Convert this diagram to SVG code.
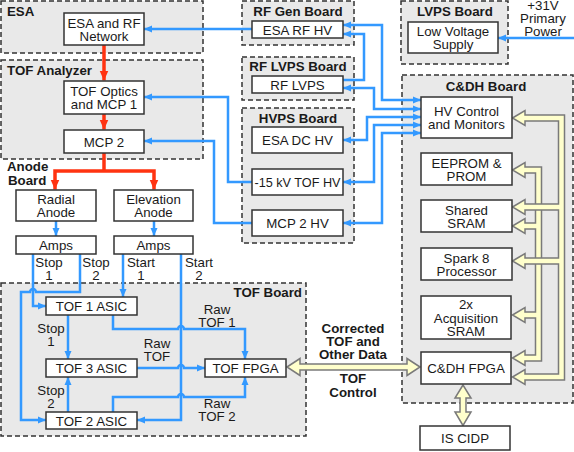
<svg xmlns="http://www.w3.org/2000/svg" width="574" height="452" viewBox="0 0 574 452">
<defs>
<style>
.grp{fill:#e9e9e9;stroke:#333;stroke-width:1.5;stroke-dasharray:5,3}
.box{fill:#fff;stroke:#333;stroke-width:1.5}
text{font-family:"Liberation Sans",Arial,sans-serif;font-size:13.3px;fill:#1a1a1a}
.c{text-anchor:middle}
.b{font-weight:bold}
.blue{fill:none;stroke:#3399ff;stroke-width:2.5}
.red{fill:none;stroke:#ff3311;stroke-width:3.5}
.bo{fill:none;stroke:#7a7a7a;stroke-width:7.5}
.by{fill:none;stroke:#ffffcc;stroke-width:4.5}
.ho{fill:#ffffcc;stroke:#7a7a7a;stroke-width:1.5}
</style>
<marker id="ab" markerUnits="userSpaceOnUse" markerWidth="8" markerHeight="8" refX="8" refY="4" orient="auto-start-reverse" viewBox="0 0 8 8"><path d="M0,0.5 L8,4 L0,7.5 z" fill="#3399ff"/></marker>
<marker id="ar" markerUnits="userSpaceOnUse" markerWidth="10" markerHeight="10" refX="10" refY="5" orient="auto-start-reverse" viewBox="0 0 10 10"><path d="M0,0.5 L10,5 L0,9.5 z" fill="#ff3311"/></marker>
</defs>

<!-- Boards -->
<g id="esa-board"><rect class="grp" x="1" y="1" width="202" height="52"/><text class="b" x="7" y="16">ESA</text></g>
<g id="tof-analyzer-board"><rect class="grp" x="1" y="60" width="202" height="99"/><text class="b" x="7" y="75">TOF Analyzer</text></g>
<g id="anode-board"><text class="b" x="7" y="171">Anode</text><text class="b" x="8" y="185">Board</text></g>
<g id="tof-board"><rect class="grp" x="1" y="283" width="305" height="153"/><text class="b" x="302" y="297" text-anchor="end">TOF Board</text></g>
<g id="rfgen-board"><rect class="grp" x="242" y="1" width="112" height="44"/><text class="b c" x="298" y="16">RF Gen Board</text></g>
<g id="rflvps-board"><rect class="grp" x="242" y="57" width="112" height="43"/><text class="b c" x="298" y="71">RF LVPS Board</text></g>
<g id="hvps-board"><rect class="grp" x="242" y="108" width="112" height="135"/><text class="b c" x="298" y="123">HVPS Board</text></g>
<g id="lvps-board"><rect class="grp" x="401" y="1" width="107" height="63"/><text class="b c" x="455" y="16">LVPS Board</text></g>
<g id="cdh-board"><rect class="grp" x="402" y="75" width="171" height="328"/><text class="b c" x="486" y="91">C&amp;DH Board</text></g>

<!-- Connectors -->
<g id="connectors">
<g id="red">
<path class="red" d="M104,45 V80.5" marker-end="url(#ar)"/>
<path class="red" d="M104,114 V129.5" marker-end="url(#ar)"/>
<path class="red" d="M104,153 V171"/>
<path class="red" d="M55,189.5 V171 H154 V189.5" marker-start="url(#ar)" marker-end="url(#ar)"/>
</g>
<g id="blue">
<path class="blue" d="M56,221 V236" marker-end="url(#ab)"/>
<path class="blue" d="M154,221 V236" marker-end="url(#ab)"/>
<path class="blue" d="M33,254 V306 H46" marker-end="url(#ab)"/>
<path class="blue" d="M80,254 V292 H36 A3,3 0 0 0 30,292 H21 V420 H46" marker-end="url(#ab)"/>
<path class="blue" d="M123,254 V297" marker-end="url(#ab)"/>
<path class="blue" d="M181,254 V420 H137" marker-end="url(#ab)"/>
<path class="blue" d="M68,315 V359" marker-end="url(#ab)"/>
<path class="blue" d="M68,412 V377" marker-end="url(#ab)"/>
<path class="blue" d="M113,315 V329 H178 A3,3 0 0 1 184,329 H245 V359" marker-end="url(#ab)"/>
<path class="blue" d="M137,368 H178 A3,3 0 0 1 184,368 H205" marker-end="url(#ab)"/>
<path class="blue" d="M113,412 V397 H178 A3,3 0 0 1 184,397 H245 V377" marker-end="url(#ab)"/>
<path class="blue" d="M252,29 H144" marker-end="url(#ab)"/>
<path class="blue" d="M252,182 H228 V97 H144" marker-end="url(#ab)"/>
<path class="blue" d="M252,223 H214 V141 H144" marker-end="url(#ab)"/>
<path class="blue" d="M343,25 H382 V100 H421" marker-start="url(#ab)" marker-end="url(#ab)"/>
<path class="blue" d="M343,80 H364 V34 H343" marker-end="url(#ab)"/>
<path class="blue" d="M343,88 H374 V109 H421" marker-start="url(#ab)" marker-end="url(#ab)"/>
<path class="blue" d="M343,140 H367 V117 H421" marker-start="url(#ab)" marker-end="url(#ab)"/>
<path class="blue" d="M343,182 H374 V125 H421" marker-start="url(#ab)" marker-end="url(#ab)"/>
<path class="blue" d="M343,223 H382 V133 H421" marker-start="url(#ab)" marker-end="url(#ab)"/>
<path class="blue" d="M574,38 H498" marker-end="url(#ab)"/>
</g>
<g id="bus-inner">
<path class="bo" d="M523,170 H538.5 V358 H523 M523,226 H538.5 M523,315 H538.5"/>
<polygon class="ho" points="512.5,170 525,162.5 525,177.5"/>
<polygon class="ho" points="512.5,226 525,218.5 525,233.5"/>
<polygon class="ho" points="512.5,315 525,307.5 525,322.5"/>
<polygon class="ho" points="512.5,358 525,350.5 525,365.5"/>
<path class="by" d="M522,170 H538.5 V358 H522 M522,226 H538.5 M522,315 H538.5"/>
</g>
<g id="bus-outer">
<path class="bo" d="M523,118 H561.5 V377 H523 M523,207 H561.5 M523,261 H561.5"/>
<polygon class="ho" points="512.5,118 525,110.5 525,125.5"/>
<polygon class="ho" points="512.5,207 525,199.5 525,214.5"/>
<polygon class="ho" points="512.5,261 525,253.5 525,268.5"/>
<polygon class="ho" points="512.5,377 525,369.5 525,384.5"/>
<path class="by" d="M522,118 H561.5 V377 H522 M522,207 H561.5 M522,261 H561.5"/>
</g>
<g id="bus-tof">
<path class="bo" d="M298,367 H409"/>
<polygon class="ho" points="287,367 300,358.5 300,375.5"/>
<polygon class="ho" points="420,367 407,358.5 407,375.5"/>
<path class="by" d="M298,367 H409"/>
</g>
<g id="bus-cidp">
<path class="bo" d="M463,396 V414"/>
<polygon class="ho" points="463,385 455,398 471,398"/>
<polygon class="ho" points="463,425.5 455,412 471,412"/>
<path class="by" d="M463,396 V414"/>
</g>
</g>

<!-- Labels -->
<g id="labels">
<text class="c" x="49" y="267">Stop</text><text class="c" x="49" y="280">1</text>
<text class="c" x="96" y="267">Stop</text><text class="c" x="96" y="280">2</text>
<text class="c" x="141" y="267">Start</text><text class="c" x="141" y="280">1</text>
<text class="c" x="199" y="267">Start</text><text class="c" x="199" y="280">2</text>
<text class="c" x="51" y="333">Stop</text><text class="c" x="51" y="346">1</text>
<text class="c" x="51" y="395">Stop</text><text class="c" x="51" y="408">2</text>
<text class="c" x="217" y="314">Raw</text><text class="c" x="217" y="327">TOF 1</text>
<text class="c" x="157" y="348">Raw</text><text class="c" x="157" y="361">TOF</text>
<text class="c" x="217" y="408">Raw</text><text class="c" x="217" y="421">TOF 2</text>
<text class="c b" x="353" y="333">Corrected</text><text class="c b" x="353" y="346">TOF and</text><text class="c b" x="353" y="359">Other Data</text>
<text class="c b" x="353" y="383">TOF</text><text class="c b" x="353" y="397">Control</text>
<text class="c" x="543" y="10">+31V</text><text class="c" x="543" y="23">Primary</text><text class="c" x="543" y="36">Power</text>
</g>

<!-- Nodes -->
<g id="esa-rf-network"><rect class="box" x="64" y="13" width="80" height="32"/><text class="c" x="104" y="27.5">ESA and RF</text><text class="c" x="104" y="40.5">Network</text></g>
<g id="tof-optics"><rect class="box" x="64" y="81" width="80" height="33"/><text class="c" x="104" y="96">TOF Optics</text><text class="c" x="104" y="109">and MCP 1</text></g>
<g id="mcp2"><rect class="box" x="64" y="130" width="80" height="23"/><text class="c" x="104" y="146.5">MCP 2</text></g>
<g id="radial-anode"><rect class="box" x="16" y="190" width="80" height="31"/><text class="c" x="56" y="204">Radial</text><text class="c" x="56" y="217">Anode</text></g>
<g id="elevation-anode"><rect class="box" x="114" y="190" width="79" height="31"/><text class="c" x="153.5" y="204">Elevation</text><text class="c" x="153.5" y="217">Anode</text></g>
<g id="amps-radial"><rect class="box" x="16" y="236" width="80" height="18"/><text class="c" x="56" y="250">Amps</text></g>
<g id="amps-elevation"><rect class="box" x="114" y="236" width="79" height="18"/><text class="c" x="153.5" y="250">Amps</text></g>
<g id="tof1-asic"><rect class="box" x="46" y="297" width="91" height="18"/><text class="c" x="91.5" y="311">TOF 1 ASIC</text></g>
<g id="tof3-asic"><rect class="box" x="46" y="359" width="91" height="18"/><text class="c" x="91.5" y="373">TOF 3 ASIC</text></g>
<g id="tof2-asic"><rect class="box" x="46" y="412" width="91" height="17"/><text class="c" x="91.5" y="425.5">TOF 2 ASIC</text></g>
<g id="tof-fpga"><rect class="box" x="205" y="359" width="81" height="18"/><text class="c" x="245.5" y="373">TOF FPGA</text></g>
<g id="esa-rf-hv"><rect class="box" x="252" y="21" width="91" height="17"/><text class="c" x="297.5" y="34.5">ESA RF HV</text></g>
<g id="rf-lvps"><rect class="box" x="252" y="76" width="91" height="17"/><text class="c" x="297.5" y="89.5">RF LVPS</text></g>
<g id="esa-dc-hv"><rect class="box" x="252" y="127" width="91" height="26"/><text class="c" x="297.5" y="145">ESA DC HV</text></g>
<g id="tof-hv"><rect class="box" x="252" y="169" width="91" height="26"/><text class="c" x="297.5" y="187" textLength="86" lengthAdjust="spacingAndGlyphs">-15 kV TOF HV</text></g>
<g id="mcp2-hv"><rect class="box" x="252" y="210" width="91" height="26"/><text class="c" x="297.5" y="228">MCP 2 HV</text></g>
<g id="low-voltage-supply"><rect class="box" x="408" y="22" width="90" height="31"/><text class="c" x="453" y="36">Low Voltage</text><text class="c" x="453" y="49">Supply</text></g>
<g id="hv-control"><rect class="box" x="421" y="97" width="91" height="41"/><text class="c" x="466.5" y="116">HV Control</text><text class="c" x="466.5" y="129">and Monitors</text></g>
<g id="eeprom"><rect class="box" x="421" y="153" width="91" height="32"/><text class="c" x="466.5" y="167.5">EEPROM &amp;</text><text class="c" x="466.5" y="180.5">PROM</text></g>
<g id="shared-sram"><rect class="box" x="421" y="200" width="91" height="32"/><text class="c" x="466.5" y="214.5">Shared</text><text class="c" x="466.5" y="227.5">SRAM</text></g>
<g id="spark8"><rect class="box" x="421" y="248" width="91" height="32"/><text class="c" x="466.5" y="262.5">Spark 8</text><text class="c" x="466.5" y="275.5">Processor</text></g>
<g id="acq-sram"><rect class="box" x="421" y="296" width="90" height="43"/><text class="c" x="466" y="309">2x</text><text class="c" x="466" y="322.5">Acquisition</text><text class="c" x="466" y="336">SRAM</text></g>
<g id="cdh-fpga"><rect class="box" x="421" y="352" width="90" height="32"/><text class="c" x="466" y="373">C&amp;DH FPGA</text></g>
<g id="is-cidp"><rect class="box" x="420" y="426" width="90" height="24"/><text class="c" x="465" y="443">IS CIDP</text></g>
</svg>
